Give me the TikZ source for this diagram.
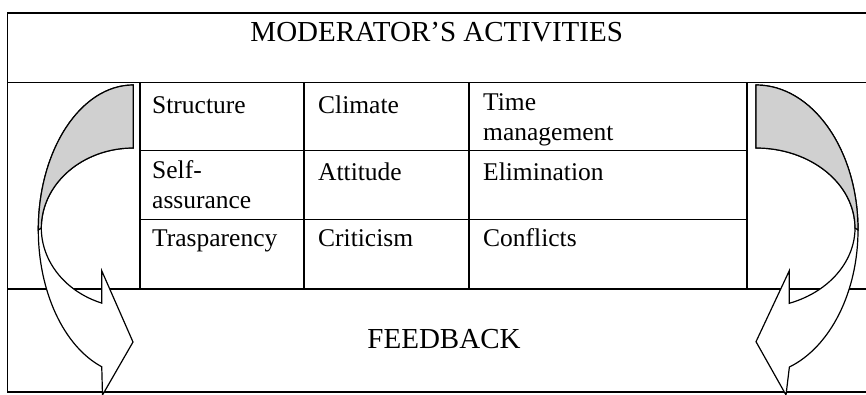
\documentclass[tikz,border=0pt]{standalone}
\usepackage{fontspec}
\setmainfont{Liberation Serif}

\definecolor{bandgray}{RGB}{208,208,208}

\tikzset{
  frameline/.style={black, line width=1.6pt},
  arrowline/.style={black, line width=1.2pt, line join=miter},
  cell/.style={anchor=north west, inner sep=0pt, align=left,
    font=\fontsize{25.5}{30}\selectfont, execute at begin node={\rule{0pt}{20pt}}},
  heading/.style={anchor=base, inner sep=0pt, font=\fontsize{29}{33}\selectfont}
}

\begin{document}
\begin{tikzpicture}[x=1pt,y=1pt]
        \useasboundingbox (0,0) rectangle (866,394);
        \fill[white] (0,0) rectangle (866,394);

        \draw[frameline] (866,381) -- (7.5,381) -- (7.5,2) -- (866,2);
        \draw[frameline] (7.5,311.5) -- (866,311.5);
        \draw[frameline] (7.5,105) -- (866,105);

        \draw[frameline] (140,311.5) -- (140,105);
        \draw[frameline] (304,311.5) -- (304,105);
        \draw[frameline] (469,311.5) -- (469,105);
        \draw[frameline] (747,311.5) -- (747,105);
        \draw[frameline] (140,243.5) -- (747,243.5);
        \draw[frameline] (140,174.5) -- (747,174.5);

        % left curved arrow
        \filldraw[arrowline, fill=white] (133.3,309)
            arc[start angle=90, end angle=250.6, x radius=95, y radius=145]
            -- (102.5,-1) -- (133,52) -- (101.7,123.3) -- (101.7,90.9)
            arc[start angle=249.9, end angle=90, x radius=92, y radius=80]
            -- cycle;
        \filldraw[arrowline, fill=bandgray] (133.3,309)
            arc[start angle=90, end angle=180, x radius=95, y radius=145]
            -- (41.3,166)
            arc[start angle=180, end angle=90, x radius=92, y radius=80]
            -- cycle;

        % right curved arrow
        \filldraw[arrowline, fill=white] (756,309)
            arc[start angle=90, end angle=-70.9, x radius=102, y radius=145]
            -- (786,-1) -- (756,52.3) -- (789.3,123.3) -- (789.3,90.7)
            arc[start angle=-70.34, end angle=90, x radius=99, y radius=80]
            -- cycle;
        \filldraw[arrowline, fill=bandgray] (756,309)
            arc[start angle=90, end angle=0, x radius=102, y radius=145]
            -- (855,166)
            arc[start angle=0, end angle=90, x radius=99, y radius=80]
            -- cycle;

        \node[heading] (title) at (436.7,352.3) {MODERATOR’S ACTIVITIES};
        \node[heading] (feedback) at (444,45.7) {FEEDBACK};

        \node[cell] (structure) at (152,300.7) {Structure};
        \node[cell] (climate) at (318,300.7) {Climate};
        \node[cell] (timemgmt) at (483,300.7) {Time\\management};
        \node[cell] (selfassur) at (152,234) {Self-\\assurance};
        \node[cell] (attitude) at (318,234) {Attitude};
        \node[cell] (elimination) at (483,234) {Elimination};
        \node[cell] (trasparency) at (152,167.5) {Trasparency};
        \node[cell] (criticism) at (318,167.5) {Criticism};
        \node[cell] (conflicts) at (483,167.5) {Conflicts};
\end{tikzpicture}
\end{document}
